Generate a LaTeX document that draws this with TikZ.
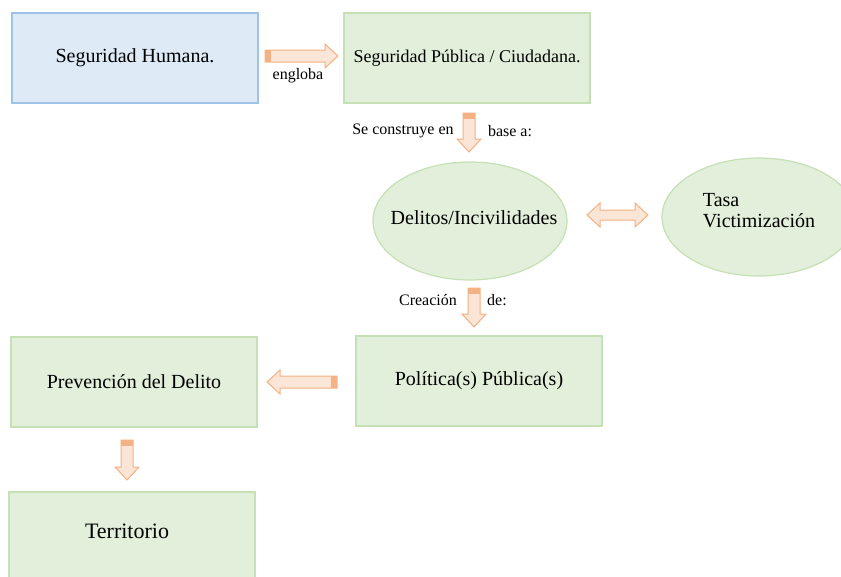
\documentclass[tikz,border=0pt]{standalone}
\usepackage{fontspec}
\setmainfont{Liberation Serif}
\usetikzlibrary{shapes.geometric}
\definecolor{azul}{HTML}{DEEBF7}
\definecolor{azulb}{HTML}{9DC3E6}
\definecolor{verde}{HTML}{E2EFDA}
\definecolor{verdeb}{HTML}{C5E0B4}
\definecolor{naranja}{HTML}{FBE5D6}
\definecolor{naranjab}{HTML}{F4B183}
\tikzset{
	caja/.style={draw=verdeb, fill=verde, line width=1.2pt, minimum width=246, minimum height=90, inner sep=0pt, font=\fontsize{20}{24}\selectfont},
	elipse/.style={ellipse, draw=verdeb, fill=verde, line width=1.2pt, minimum width=194, minimum height=118, inner sep=0pt},
	texto/.style={inner sep=0pt, font=\fontsize{20}{24}\selectfont},
	etiq/.style={inner sep=0pt, font=\fontsize{16}{19}\selectfont},
	flecha/.style={draw=naranjab, fill=naranja, line width=1pt, line join=miter},
	barrow/.pic={
		\filldraw[flecha] (0,-6) -- ({#1-13},-6) -- ({#1-13},-12) -- (#1,0) -- ({#1-13},12) -- ({#1-13},6) -- (0,6) -- cycle;
		\fill[naranjab] (0,-6) rectangle (6,6);
	},
	dbarrow/.pic={
		\filldraw[flecha] (0,0) -- (13,-12) -- (13,-5) -- ({#1-13},-5) -- ({#1-13},-12) -- (#1,0) -- ({#1-13},12) -- ({#1-13},5) -- (13,5) -- (13,12) -- cycle;
	}
}
\begin{document}
\begin{tikzpicture}[x=1pt,y=-1pt]
	\clip (0,0) rectangle (841,576);

	% cajas
	\node[caja, draw=azulb, fill=azul] (humana) at (135,58) {Seguridad Humana.};
	\node[caja, font=\fontsize{18}{22}\selectfont] (publica) at (467,58) {Seguridad Pública / Ciudadana.};
	\node[caja] (politica) at (479,381) {Política(s) Pública(s)};
	\node[caja] (prevencion) at (134,382) {Prevención del Delito};
	\node[caja, minimum height=100] (territorio) at (132,542) {};
	\node[texto, font=\fontsize{22}{26}\selectfont] (terr) at (127,531) {Territorio};

	% elipses
	\node[elipse] (delitos) at (470,221) {};
	\node[texto] (delitostxt) at (474,218) {Delitos/Incivilidades};
	\node[elipse] (tasa) at (759,217) {};
	\node[texto, align=left] (tasatxt) at (759,211) {Tasa\\[-3pt]Victimización};

	% flechas
	\pic at (265,56) {barrow=73};
	\pic[rotate=-90] at (469,113) {barrow=39};
	\pic at (587,215) {dbarrow=61};
	\pic[rotate=-90] at (474,288) {barrow=39};
	\pic[rotate=180] at (337,382) {barrow=70};
	\pic[rotate=-90] at (127,440) {barrow=40};

	% etiquetas
	\node[etiq] (engloba) at (298,76) {engloba};
	\node[etiq] (construye) at (403,131) {Se construye en};
	\node[etiq] (base) at (510,131) {base a:};
	\node[etiq] (creacion) at (428,300) {Creación};
	\node[etiq] (de) at (497,300) {de:};

\end{tikzpicture}
\end{document}
